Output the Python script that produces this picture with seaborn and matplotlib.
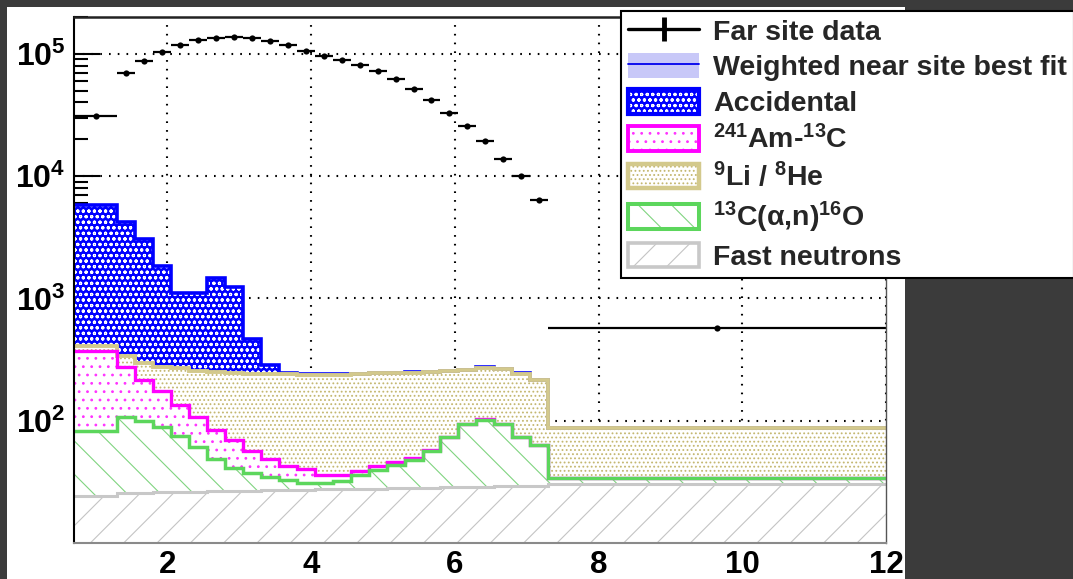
import numpy as np
import pandas as pd
import matplotlib
matplotlib.use("Agg")
import matplotlib.pyplot as plt
import seaborn as sns
from matplotlib.patches import Patch, Rectangle
from matplotlib.lines import Line2D
from matplotlib.ticker import FuncFormatter, LogLocator, NullFormatter

# ---------------------------------------------------------------------------
# Prompt-energy binning [MeV]: one wide low bin, 0.25 MeV bins, one wide tail bin
bin_edges = [0.7, 1.3, 1.55, 1.8, 2.05, 2.3, 2.55, 2.8, 3.05, 3.3, 3.55, 3.8,
             4.05, 4.3, 4.55, 4.8, 5.05, 5.3, 5.55, 5.8, 6.05, 6.3, 6.55, 6.8,
             7.05, 7.3, 12.0]

# Far site IBD candidates per bin
far_site = [31000, 69800, 87700, 103800, 118600, 130300, 135300, 137800,
            135300, 127800, 118600, 105800, 96300, 89300, 81300, 72600,
            62400, 51700, 42000, 32800, 25700, 19400, 13800, 10000, 6350, 568]

# Background components per bin (stacked bottom to top)
fast_neutrons = [24.3, 25.6, 25.8, 25.9, 26.1, 26.2, 26.4, 26.6, 26.7, 26.9,
                 27.1, 27.2, 27.4, 27.5, 27.7, 27.9, 28.0, 28.2, 28.4, 28.5,
                 28.7, 28.8, 29.0, 29.2, 29.3, 30.5]
c13_alpha_n = [58.5, 82.4, 74.2, 62.2, 49.2, 34.2, 22.5, 14.8, 11.0, 8.0,
               5.4, 4.0, 3.3, 4.7, 8.4, 11.7, 15.5, 19.7, 28.3, 44.4,
               65.2, 73.2, 64.9, 43.7, 34.2, 3.3]
am_c13 = [287, 166, 117, 86, 60, 47.6, 35.5, 28.4, 18.3, 14.0,
          10.3, 9.2, 5.5, 3.5, 2.6, 2.8, 2.4, 1.9, 0.8, 0.5,
          0.4, 0.3, 0.2, 0.1, 0.1, 0.05]
li9_he8 = [36, 61, 80, 100, 132, 149, 168, 177, 187, 194,
           198, 198, 201, 202, 201, 201, 199, 197, 191, 181,
           165, 168, 170, 170, 151, 53]
accidental = [5374, 3885, 2753, 1556, 833, 843, 1208, 983, 227, 45,
              4, 2.5, 2, 2, 2, 2, 2, 2, 2, 2, 2, 2, 2, 1.5, 1.5, 0.5]

legend_labels = ["Far site data", "Weighted near site best fit", "Accidental",
                 r"$^{241}$Am-$^{13}$C", r"$^{9}$Li / $^{8}$He",
                 r"$^{13}$C($\alpha$,n)$^{16}$O", "Fast neutrons"]

# ---------------------------------------------------------------------------
sns.set_theme(style="white")
plt.rcParams["font.family"] = ["Liberation Sans", "DejaVu Sans"]
plt.rcParams["font.weight"] = "bold"
plt.rcParams["mathtext.fontset"] = "custom"
plt.rcParams["mathtext.rm"] = "Liberation Sans:bold"
plt.rcParams["mathtext.bf"] = "Liberation Sans:bold"
plt.rcParams["mathtext.it"] = "Liberation Sans:bold"
plt.rcParams["mathtext.sf"] = "Liberation Sans:bold"
plt.rcParams["mathtext.default"] = "bf"
plt.rcParams["hatch.linewidth"] = 0.8

W, H = 1073, 579
fig = plt.figure(figsize=(W / 100, H / 100), dpi=100, facecolor="#3b3b3b")
fig.patches.append(Rectangle((7 / W, 0), 898 / W, 1 - 7 / H, transform=fig.transFigure,
                             facecolor="white", edgecolor="none", zorder=-5))
ax = fig.add_axes([74 / W, 1 - 543 / H, 812 / W, 526 / H])
ax.set_zorder(2)
ax.set_facecolor("white")

edges = np.array(bin_edges)
centers = 0.5 * (edges[:-1] + edges[1:])
stack = np.cumsum(np.vstack([fast_neutrons, c13_alpha_n, am_c13, li9_he8, accidental]), axis=0)


def ext(v):
    return np.append(v, v[-1])


# (face, hatch colour, hatch, outline colour, outline width), bottom to top
styles = [
    ("white", "#c4c4c4", "/", "#c8c8c8", 2.2),
    ("white", "#80d480", "\\", "#5cd65c", 2.5),
    ("white", "#ff33ff", "..", "#ff00ff", 2.4),
    ("white", "#c4b770", "....", "#d3c98c", 2.8),
    ("#0000ff", "white", "ooo", "#0000ff", 2.6),
]

lower = np.full(len(centers), 1.0)
for i, (face, hcol, hatch, lcol, lw) in enumerate(styles):
    upper = stack[i]
    ax.fill_between(edges, ext(lower), ext(upper), step="post",
                    facecolor=face, edgecolor=hcol, hatch=hatch,
                    linewidth=0, zorder=1 + 0.01 * i)
    lower = upper

# outlines: top of stack first so lower components sit above it
for i in reversed(range(len(styles))):
    _, _, _, lcol, lw = styles[i]
    ax.stairs(stack[i], edges, baseline=None, color=lcol, linewidth=lw,
              zorder=2 + 0.1 * (len(styles) - i))

# Far site data
ax.errorbar(centers, far_site, xerr=[centers - edges[:-1], edges[1:] - centers],
            fmt="none", ecolor="black", elinewidth=1.6, capsize=0, zorder=4)
df = pd.DataFrame({"energy": centers, "events": far_site})
sns.scatterplot(data=df, x="energy", y="events", color="black", s=20,
                edgecolor="black", linewidth=0, zorder=5, ax=ax, legend=False)

# Axes
ax.set_yscale("log")
ax.set_xlim(0.7, 12)
ax.set_ylim(10, 2e5)
ax.set_xlabel("")
ax.set_ylabel("")
ax.set_xticks([2, 4, 6, 8, 10, 12], labels=["2", "4", "6", "8", "10", "12"])
ax.set_yticks([1e2, 1e3, 1e4, 1e5])
ax.yaxis.set_major_formatter(FuncFormatter(lambda v, p: r"$10^{%d}$" % round(np.log10(v))))
ax.yaxis.set_minor_locator(LogLocator(base=10, subs=np.arange(2, 10)))
ax.yaxis.set_minor_formatter(NullFormatter())
ax.tick_params(axis="x", length=0, pad=5, labelsize=22.5)
ax.tick_params(axis="y", which="major", direction="in", length=19, width=1.5,
               color="black", pad=6, labelsize=23, left=True, right=False)
ax.tick_params(axis="y", which="minor", direction="in", length=10, width=1.5,
               color="black", left=True, right=False)
for lab in ax.get_xticklabels() + ax.get_yticklabels():
    lab.set_fontweight("bold")
    lab.set_color("black")

ax.set_axisbelow(True)
ax.grid(True, which="major", axis="both", color="black",
        linestyle=(0, (0.8, 3.4)), linewidth=1.5, zorder=0.5)
ax.grid(False, which="minor")

ax.spines["left"].set_color("black")
ax.spines["left"].set_linewidth(1.5)
ax.spines["top"].set_color("#222222")
ax.spines["top"].set_linewidth(1.8)
ax.spines["right"].set_color("#555555")
ax.spines["right"].set_linewidth(1.0)
ax.spines["bottom"].set_color("#8a8a8a")
ax.spines["bottom"].set_linewidth(1.5)
for s in ax.spines.values():
    s.set_zorder(6)

# Legend: data, best fit, then the backgrounds from the top of the stack down
handles = [
    Line2D([], [], color="black", lw=2.4, marker="|", ms=17, mew=3.5),
    (Patch(facecolor="#c8c8f8", edgecolor="none"), Line2D([], [], color="#0000ee", lw=1.3)),
]
for idx in [4, 2, 3, 1, 0]:
    face, hcol, hatch, lcol, lw = styles[idx]
    handles.append((Patch(facecolor=face, edgecolor=hcol, hatch=hatch, linewidth=0),
                    Patch(facecolor="none", edgecolor=lcol, linewidth=lw + 0.4,
                          joinstyle="round")))

leg = ax.legend(handles, legend_labels, loc="upper left",
                bbox_to_anchor=(621 / W, 1 - 10.5 / H), bbox_transform=fig.transFigure,
                borderaxespad=0, frameon=True, fancybox=False, framealpha=1,
                prop={"family": "Liberation Sans", "weight": "bold", "size": 20.5},
                handlelength=2.5, handleheight=0.95, handletextpad=0.48,
                labelspacing=0.27, borderpad=0.25)
leg.get_frame().set_edgecolor("black")
leg.get_frame().set_linewidth(1.5)
leg.set_zorder(10)

fig.savefig("out.png", dpi=100, facecolor=fig.get_facecolor())
